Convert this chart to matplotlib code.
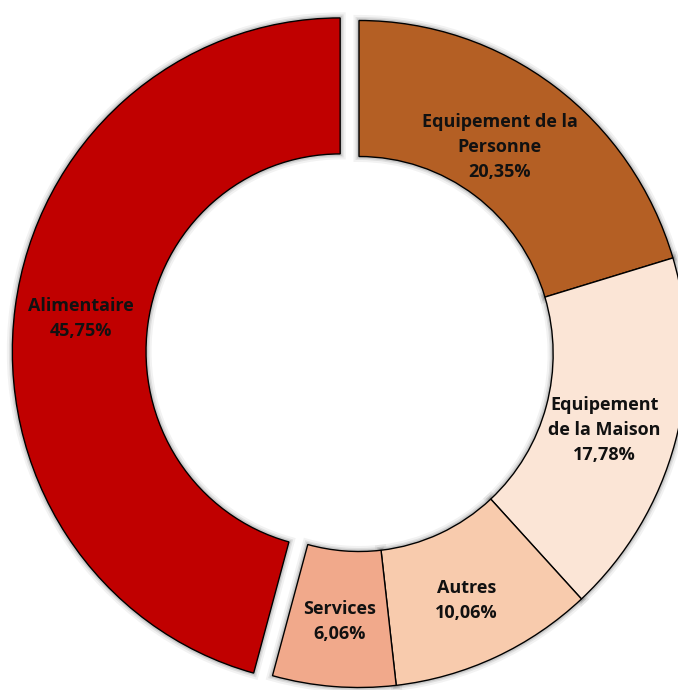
import matplotlib
matplotlib.use("Agg")
import matplotlib.pyplot as plt

# Slices, clockwise from the top
categories = ["Equipement de la\nPersonne", "Equipement\nde la Maison", "Autres", "Services", "Alimentaire"]
values = [20.35, 17.78, 10.06, 6.06, 45.75]
colors = ["#B45F24", "#FBE5D6", "#F8CBAD", "#F1A98B", "#C00000"]

labels = [f"{c}\n{v:.2f}%".replace(".", ",") for c, v in zip(categories, values)]

plt.rcParams["font.family"] = ["Open Sans", "DejaVu Sans"]

# Excel drew the ring slightly squeezed horizontally
xscale = 0.983          # pixels per x data unit
W, H = 678, 690
fig = plt.figure(figsize=(W / 100, H / 100), dpi=100)
ax = fig.add_axes([0, 0, 1, 1])

center = (359 / xscale, H - 354)
radius = 333.5
explode = [0, 0, 0, 0, 19 / xscale]
common = dict(startangle=90, counterclock=False, center=center, radius=radius,
              explode=explode, frame=True)

# soft shadow around the ring
for lw, a in [(8, 0.05), (5, 0.08), (3, 0.10)]:
    ax.pie(values, colors=["none"] * len(values),
           wedgeprops=dict(width=136, edgecolor=(0, 0, 0, a), linewidth=lw, facecolor="none"),
           **common)

wedges, texts = ax.pie(
    values,
    labels=labels,
    colors=colors,
    labeldistance=0.796,
    wedgeprops=dict(width=136, edgecolor="black", linewidth=1),
    textprops=dict(fontsize=13, fontweight="bold", color="#111111"),
    **common,
)
ax.axis("off")
ax.set_xlim(0, W / xscale)
ax.set_ylim(0, H)
ax.set_aspect("auto")

# Excel's label nudges, in pixels (right, down)
nudges = [(-15, 6), (-6, 6), (-1, 5), (1, 3), (-1, 2)]
for t, (dx, dy) in zip(texts, nudges):
    t.set_ha("center")
    t.set_va("center")
    t.set_multialignment("center")
    t.set_linespacing(1.5)
    x, y = t.get_position()
    t.set_position((x + dx / xscale, y - dy))

fig.savefig("out.png", dpi=100)
